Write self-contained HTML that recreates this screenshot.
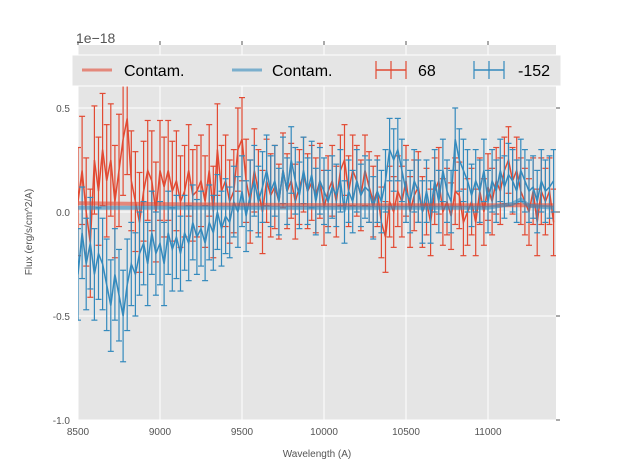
<!DOCTYPE html>
<html><head><meta charset="utf-8"><style>
body{margin:0;background:#fff}
svg{display:block;font-family:"Liberation Sans",sans-serif}
</style></head><body>
<svg id="chart" width="617" height="467" viewBox="0 0 617 467"></svg>
<script>
const xTicks=[8500,9000,9500,10000,10500,11000];
const yTicks=[-1.0,-0.5,0.0,0.5];
const yTickLabels=["-1.0","-0.5","0.0","0.5"];
const wlStart=8500, wlStep=25;
const flux68=[0.05,0.2,0.0,-0.15,0.25,0.1,0.3,0.15,0.25,0.05,0.2,0.35,0.45,
0.15,0.05,-0.05,0.1,0.2,0.15,0.0,0.2,0.12,0.2,0.1,0.15,
0.05,0.1,0.2,0.08,0.1,0.15,0.05,0.2,0.0,0.3,0.1,0.15,
0.05,0.1,0.3,0.35,0.15,0.05,0.2,0.1,0.0,0.15,0.08,0.12,
0.05,0.2,0.1,0.15,0.05,0.12,0.18,0.1,0.14,0.08,0.15,0.02,
0.1,0.15,0.05,0.2,0.25,0.1,0.2,0.15,0.08,0.2,0.12,0.05,
0.1,-0.05,-0.12,0.05,0.0,0.1,0.05,0.15,0.0,0.08,0.12,0.0,
0.05,-0.05,0.1,0.15,0.0,0.05,-0.02,0.1,0.08,-0.05,0.0,0.05,
-0.05,0.1,0.0,0.12,0.05,0.15,0.1,0.2,0.25,0.15,0.2,0.1,
0.05,0.0,0.1,-0.05,0.1,0.05,0.1,-0.05];
const err68=[0.26,0.26,0.26,0.26,0.26,0.26,0.27,0.27,0.27,0.27,0.27,0.27,0.27,
0.24,0.24,0.24,0.24,0.24,0.24,0.24,0.24,0.24,0.24,0.24,0.24,
0.22,0.22,0.22,0.22,0.22,0.22,0.22,0.22,0.22,0.22,0.22,0.22,
0.2,0.2,0.2,0.2,0.2,0.2,0.2,0.2,0.2,0.2,0.2,0.2,
0.18,0.18,0.18,0.18,0.18,0.18,0.18,0.18,0.18,0.18,0.18,0.18,
0.17,0.17,0.17,0.17,0.17,0.17,0.17,0.17,0.17,0.17,0.17,0.17,
0.17,0.17,0.17,0.17,0.17,0.17,0.17,0.17,0.17,0.17,0.17,0.17,
0.16,0.16,0.16,0.16,0.16,0.16,0.16,0.16,0.16,0.16,0.16,0.16,
0.16,0.16,0.16,0.16,0.16,0.16,0.16,0.16,0.16,0.16,0.16,0.16,
0.16,0.16,0.16,0.16,0.16,0.16,0.16,0.16];
const flux152=[-0.3,-0.1,-0.25,-0.15,-0.3,-0.2,-0.25,-0.35,-0.45,-0.3,-0.4,-0.5,-0.35,
-0.25,-0.3,-0.2,-0.15,-0.25,-0.1,-0.2,-0.15,-0.25,-0.1,-0.18,-0.12,
-0.2,-0.1,-0.15,-0.05,-0.12,-0.08,-0.15,-0.05,-0.1,0.0,-0.08,-0.02,
-0.05,0.05,0.0,0.1,-0.02,0.08,0.15,0.05,0.12,0.2,0.1,0.15,
0.05,0.2,0.1,0.25,0.15,0.08,0.2,0.1,0.18,0.05,0.15,0.1,
0.05,0.12,0.08,0.15,0.0,0.1,0.05,0.15,0.08,0.12,0.1,0.02,
0.1,0.05,0.15,0.3,0.25,0.3,0.2,0.1,0.05,0.15,0.1,0.0,
0.1,0.0,0.15,0.05,0.2,0.1,0.05,0.35,0.25,0.2,0.15,0.08,
0.15,0.1,0.2,0.05,0.15,0.1,0.2,0.12,0.18,0.15,0.1,0.2,
0.15,0.1,0.12,0.05,0.15,0.1,0.12,0.15];
const err152=[0.22,0.22,0.22,0.22,0.22,0.22,0.22,0.22,0.22,0.22,0.22,0.22,0.22,
0.2,0.2,0.2,0.2,0.2,0.2,0.2,0.2,0.2,0.2,0.2,0.2,
0.18,0.18,0.18,0.18,0.18,0.18,0.18,0.18,0.18,0.18,0.18,0.18,
0.17,0.17,0.17,0.17,0.17,0.17,0.17,0.17,0.17,0.17,0.17,0.17,
0.16,0.16,0.16,0.16,0.16,0.16,0.16,0.16,0.16,0.16,0.16,0.16,
0.15,0.15,0.15,0.15,0.15,0.15,0.15,0.15,0.15,0.15,0.15,0.15,
0.15,0.15,0.15,0.15,0.15,0.15,0.15,0.15,0.15,0.15,0.15,0.15,
0.15,0.15,0.15,0.15,0.15,0.15,0.15,0.15,0.15,0.15,0.15,0.15,
0.15,0.15,0.15,0.15,0.15,0.15,0.15,0.15,0.15,0.15,0.15,0.15,
0.15,0.15,0.15,0.15,0.15,0.15,0.15,0.15];
const contamWl=[8500,9000,9500,10000,10500,11000,11150,11200,11250,11400];
const contam68=[0.042,0.038,0.035,0.033,0.032,0.032,0.032,0.033,0.032,0.032];
const contam152=[0.02,0.02,0.02,0.02,0.02,0.02,0.04,0.06,0.03,0.02];

const L=78,R=556,T=45,B=420;
const X=v=>L+(v-8500)*(164/1000);
const Y=v=>212-v*208;
const NS="http://www.w3.org/2000/svg";
const svg=document.getElementById('chart');
function mk(t,a,p){const e=document.createElementNS(NS,t);for(const k in a)e.setAttribute(k,a[k]);(p||svg).appendChild(e);return e;}

let bg=mk('rect',{x:L,y:T,width:R-L,height:B-T,fill:'#e5e5e5'});


xTicks.forEach(v=>{
  let g=mk('line',{x1:X(v),x2:X(v),y1:T,y2:B,stroke:'#fff','stroke-width':1});
  
  
  mk('line',{x1:X(v),x2:X(v),y1:T-4,y2:T,stroke:'#555'});
  let t=mk('text',{x:X(v),y:B+15,'font-size':10,fill:'#555','text-anchor':'middle'});
  t.textContent=v;
  
  
});
yTicks.forEach((v,i)=>{
  let g=mk('line',{x1:L,x2:R,y1:Y(v),y2:Y(v),stroke:'#fff','stroke-width':1});
  
  
  mk('line',{x1:R,x2:R+4,y1:Y(v),y2:Y(v),stroke:'#555'});
  let t=mk('text',{x:L-8,y:Y(v)+4,'font-size':10,fill:'#555','text-anchor':'end'});
  t.textContent=yTickLabels[i];
  
  
});
const clip=mk('clipPath',{id:'c'});mk('rect',{x:L,y:T,width:R-L,height:B-T},clip);
const pg=mk('g',{'clip-path':'url(#c)'});
function series(vals,errs,col,name){
  const g=mk('g',{},pg);
  
  
  let d='';
  vals.forEach((v,i)=>{
    const x=X(wlStart+wlStep*i),y1=Y(v+errs[i]),y2=Y(v-errs[i]);
    mk('line',{x1:x,x2:x,y1:y1,y2:y2,stroke:col,'stroke-width':1.2},g);
    mk('line',{x1:x-3,x2:x+3,y1:y1,y2:y1,stroke:col,'stroke-width':1.2},g);
    mk('line',{x1:x-3,x2:x+3,y1:y2,y2:y2,stroke:col,'stroke-width':1.2},g);
    d+=(i?'L':'M')+x.toFixed(1)+','+Y(v).toFixed(1);
  });
  mk('path',{d:d,fill:'none',stroke:col,'stroke-width':1.5},g);
}
series(flux68,err68,'#E24A33','series-68');
series(flux152,err152,'#348ABD','series-minus152');
function contam(vals,col,name){
  let d='';vals.forEach((v,i)=>d+=(i?'L':'M')+X(contamWl[i]).toFixed(1)+','+Y(v).toFixed(1));
  const p=mk('path',{d:d,fill:'none',stroke:col,'stroke-width':4,'stroke-opacity':0.6},pg);
  
  
}
contam(contam68,'#E24A33','contam-68');
contam(contam152,'#348ABD','contam-minus152');

const lg=mk('g',{});


mk('rect',{x:72,y:55,width:489,height:31,fill:'#e5e5e5',stroke:'#fff','stroke-width':1},lg);
mk('line',{x1:82,x2:112,y1:70,y2:70,stroke:'#E24A33','stroke-width':3,'stroke-opacity':0.6},lg);
mk('line',{x1:232,x2:262,y1:70,y2:70,stroke:'#348ABD','stroke-width':3,'stroke-opacity':0.6},lg);
[[376,'#E24A33'],[474,'#348ABD']].forEach(([x0,c])=>{
  mk('line',{x1:x0,x2:x0+30,y1:70,y2:70,stroke:c,'stroke-width':1.5},lg);
  mk('line',{x1:x0,x2:x0,y1:61,y2:79,stroke:c,'stroke-width':1.2},lg);
  mk('line',{x1:x0+30,x2:x0+30,y1:61,y2:79,stroke:c,'stroke-width':1.2},lg);
  mk('line',{x1:x0+15,x2:x0+15,y1:61,y2:79,stroke:c,'stroke-width':1.2},lg);
});
[[124,'Contam.'],[272,'Contam.'],[418,'68'],[518,'-152']].forEach(([x,s])=>{
  const t=mk('text',{x:x,y:76,'font-size':16,fill:'#000'},lg);t.textContent=s;
  
  
});

let t=mk('text',{x:317,y:457,'font-size':10,fill:'#555','text-anchor':'middle'});t.textContent='Wavelength (A)';


t=mk('text',{x:0,y:0,'font-size':10,fill:'#555','text-anchor':'middle',transform:'translate(32,232) rotate(-90)'});t.textContent='Flux (erg/s/cm^2/A)';


t=mk('text',{x:76,y:43,'font-size':14,fill:'#555'});t.textContent='1e−18';


</script>
</body></html>
